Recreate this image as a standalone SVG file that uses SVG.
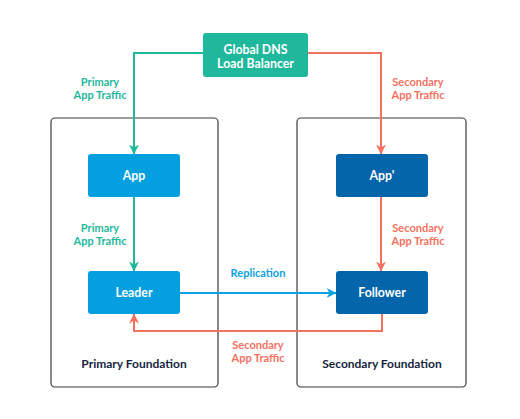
<svg xmlns="http://www.w3.org/2000/svg" width="520" height="419" viewBox="0 0 520 419">
<defs>
<style>
.lbl{font-family:Lato,"Open Sans","Liberation Sans",sans-serif;font-weight:700;font-size:11px;text-anchor:middle}
.node{font-family:Lato,"Open Sans","Liberation Sans",sans-serif;font-weight:700;font-size:12.3px;text-anchor:middle;fill:#fff}
.found{font-family:Lato,"Open Sans","Liberation Sans",sans-serif;font-weight:700;font-size:12px;text-anchor:middle;fill:#15253f}
.teal{fill:#1fb89c}.red{fill:#f4705f}.blue{fill:#0ba1e2}
.box{fill:none;stroke:#3a3a3a;stroke-width:1.2}
.ln{fill:none;stroke-width:2}
</style>
<marker id="aT" viewBox="0 0 10 10" refX="9.5" refY="5" markerWidth="5" markerHeight="5" orient="auto" markerUnits="strokeWidth"><path d="M0,0 L10,5 L0,10 L3,5 Z" fill="#1fb89c"/></marker>
<marker id="aR" viewBox="0 0 10 10" refX="9.5" refY="5" markerWidth="5" markerHeight="5" orient="auto" markerUnits="strokeWidth"><path d="M0,0 L10,5 L0,10 L3,5 Z" fill="#f4705f"/></marker>
<marker id="aB" viewBox="0 0 10 10" refX="9.5" refY="5" markerWidth="5" markerHeight="5" orient="auto" markerUnits="strokeWidth"><path d="M0,0 L10,5 L0,10 L3,5 Z" fill="#0ba1e2"/></marker>
</defs>
<rect width="520" height="419" fill="#fff"/>
<g id="primary-foundation">
<rect class="box" x="51" y="118" width="167" height="269" rx="4"/>
<text class="found" x="134" y="368">Primary Foundation</text>
</g>
<g id="secondary-foundation">
<rect class="box" x="297" y="118" width="169" height="269" rx="4"/>
<text class="found" x="382" y="368">Secondary Foundation</text>
</g>
<g id="connectors">
<path class="ln" d="M203,53 H134 V154" stroke="#1fb89c" marker-end="url(#aT)"/>
<path class="ln" d="M308,53 H381 V154" stroke="#f4705f" marker-end="url(#aR)"/>
<path class="ln" d="M134,197 V271" stroke="#1fb89c" marker-end="url(#aT)"/>
<path class="ln" d="M381,197 V271" stroke="#f4705f" marker-end="url(#aR)"/>
<path class="ln" d="M180,293 H336" stroke="#0ba1e2" marker-end="url(#aB)"/>
<path class="ln" d="M382,314 V331 H134 V314" stroke="#f4705f" marker-end="url(#aR)"/>
<text class="lbl teal" x="100" y="86">Primary</text>
<text class="lbl teal" x="100" y="98.5">App Traffic</text>
<text class="lbl red" x="418" y="86">Secondary</text>
<text class="lbl red" x="418" y="98.5">App Traffic</text>
<text class="lbl teal" x="100" y="232">Primary</text>
<text class="lbl teal" x="100" y="244.5">App Traffic</text>
<text class="lbl red" x="418" y="232">Secondary</text>
<text class="lbl red" x="418" y="244.5">App Traffic</text>
<text class="lbl blue" x="258" y="277">Replication</text>
<text class="lbl red" x="258" y="349">Secondary</text>
<text class="lbl red" x="258" y="361.5">App Traffic</text>
</g>
<g id="dns">
<rect x="203" y="33" width="105" height="44" rx="3" fill="#1fb89c"/>
<text class="node" x="255.5" y="53.5">Global DNS</text>
<text class="node" x="255.5" y="67.5">Load Balancer</text>
</g>
<g id="app">
<rect x="88" y="154" width="92" height="43" rx="3" fill="#049fdf"/>
<text class="node" x="134" y="180">App</text>
</g>
<g id="app-prime">
<rect x="336" y="154" width="92" height="43" rx="3" fill="#0465aa"/>
<text class="node" x="382" y="180">App'</text>
</g>
<g id="leader">
<rect x="88" y="271" width="92" height="43" rx="3" fill="#049fdf"/>
<text class="node" x="134" y="297">Leader</text>
</g>
<g id="follower">
<rect x="336" y="271" width="92" height="43" rx="3" fill="#0465aa"/>
<text class="node" x="382" y="297">Follower</text>
</g>
</svg>
